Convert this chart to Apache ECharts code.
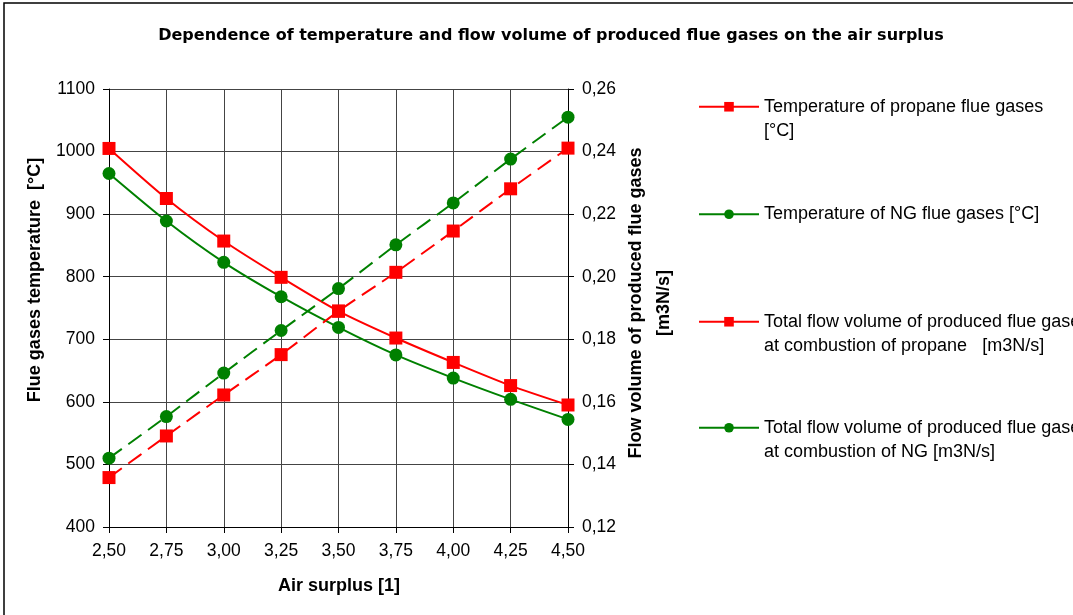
<!DOCTYPE html>
<html>
<head>
<meta charset="utf-8">
<script src="https://cdn.jsdelivr.net/npm/echarts@6/dist/echarts.min.js"></script>
<style>html,body{margin:0;padding:0;background:#fff;}#c{width:1073px;height:615px;}</style>
</head>
<body>
<div id="c"></div>
<script>
var categories = ['2,50','2,75','3,00','3,25','3,50','3,75','4,00','4,25','4,50'];
var tempPropane = [1005, 925, 857, 799, 745, 702, 663, 626, 595];
var tempNG = [965, 889, 823, 768, 719, 675, 638, 604, 572];
var flowPropane = [0.1358, 0.1491, 0.1622, 0.1751, 0.1890, 0.2014, 0.2146, 0.2281, 0.2411];
var flowNG = [0.1420, 0.1553, 0.1692, 0.1828, 0.1962, 0.2102, 0.2236, 0.2376, 0.2510];
var leftTicks = {min: 400, max: 1100, interval: 100};
var rightTicks = {min: 0.12, max: 0.26, interval: 0.02};
var names = [
  'Temperature of propane flue gases\n[°C]',
  'Temperature of NG flue gases [°C]',
  'Total flow volume of produced flue gases\nat combustion of propane   [m3N/s]',
  'Total flow volume of produced flue gases\nat combustion of NG [m3N/s]'
];
var titleText = 'Dependence of temperature and flow volume of produced flue gases on the air surplus';
var xName = 'Air surplus [1]';
var yLeftName = 'Flue gases temperature  [°C]';
var yRightName = 'Flow volume of produced flue gases\n[m3N/s]';

var RED = '#ff0000', GREEN = '#008000';
var FONT = 'Liberation Sans, Arial, sans-serif';
var chart = echarts.init(document.getElementById('c'));
function legendAt(top, i) {
  return {
    left: 698, top: top, orient: 'vertical', padding: 0,
    itemWidth: 60, itemHeight: 12, itemGap: 5,
    data: [{name: names[i], lineStyle: {type: 'solid', width: 2}}],
    formatter: function (n) { return n.indexOf('\n') >= 0 ? '\n' + n : n; },
    textStyle: {fontFamily: FONT, fontSize: 18, color: '#000', lineHeight: 24.5}
  };
}
var axisLine = {show: true, lineStyle: {color: '#000', width: 1}};
var nameStyle = {fontFamily: FONT, fontSize: 18, fontWeight: 'bold', fill: '#000'};
chart.setOption({
  animation: false,
  backgroundColor: '#fff',
  title: {
    text: titleText,
    left: 546, top: 23, textAlign: 'center',
    textStyle: {fontFamily: 'DejaVu Sans', fontSize: 16, fontWeight: 'bold', color: '#000'}
  },
  graphic: [{
    type: 'rect', shape: {x: 4, y: 3, width: 1200, height: 700},
    style: {fill: 'none', stroke: '#000', lineWidth: 1.5}, silent: true
  }, {
    type: 'text', x: 35, y: 280, rotation: Math.PI / 2, silent: true,
    style: Object.assign({text: yLeftName, align: 'center', verticalAlign: 'middle'}, nameStyle)
  }, {
    type: 'text', x: 650, y: 303, rotation: Math.PI / 2, silent: true,
    style: Object.assign({text: yRightName, align: 'center', verticalAlign: 'middle', lineHeight: 28}, nameStyle)
  }, {
    type: 'text', x: 339, y: 586, silent: true,
    style: Object.assign({text: xName, align: 'center', verticalAlign: 'middle'}, nameStyle)
  }],
  legend: [legendAt(70, 0), legendAt(202, 1), legendAt(285, 2), legendAt(391, 3)],
  grid: {left: 109, right: 505, top: 89, bottom: 88},
  xAxis: {
    type: 'category', data: categories, boundaryGap: false,
    axisLine: axisLine,
    axisTick: {show: true, length: 6, lineStyle: {color: '#000'}},
    axisLabel: {fontFamily: FONT, fontSize: 17.5, color: '#000', margin: 15},
    splitLine: {show: true, lineStyle: {color: '#444', width: 1}}
  },
  yAxis: [{
    type: 'value', min: leftTicks.min, max: leftTicks.max, interval: leftTicks.interval,
    axisLine: axisLine,
    axisTick: {show: true, length: 6, lineStyle: {color: '#000'}},
    axisLabel: {fontFamily: FONT, fontSize: 17.5, color: '#000', margin: 14,
      formatter: function (v) { return String(v); }},
    splitLine: {show: true, lineStyle: {color: '#444', width: 1}}
  }, {
    type: 'value', min: rightTicks.min, max: rightTicks.max, interval: rightTicks.interval,
    position: 'right',
    axisLine: axisLine,
    axisTick: {show: true, length: 6, lineStyle: {color: '#000'}},
    axisLabel: {fontFamily: FONT, fontSize: 17.5, color: '#000', margin: 14,
      formatter: function (v) { return v.toFixed(2).replace('.', ','); }},
    splitLine: {show: false}
  }],
  series: [{
    name: names[0], type: 'line', yAxisIndex: 0, data: tempPropane, smooth: 0.25,
    symbol: 'rect', symbolSize: 13, color: RED,
    lineStyle: {color: RED, width: 2}, itemStyle: {color: RED}
  }, {
    name: names[1], type: 'line', yAxisIndex: 0, data: tempNG, smooth: 0.25,
    symbol: 'circle', symbolSize: 13, color: GREEN,
    lineStyle: {color: GREEN, width: 2}, itemStyle: {color: GREEN}
  }, {
    name: names[2], type: 'line', yAxisIndex: 1, data: flowPropane, smooth: 0.25,
    symbol: 'rect', symbolSize: 13, color: RED,
    lineStyle: {color: RED, width: 2, type: [16, 8]}, itemStyle: {color: RED}
  }, {
    name: names[3], type: 'line', yAxisIndex: 1, data: flowNG, smooth: 0.25,
    symbol: 'circle', symbolSize: 13, color: GREEN,
    lineStyle: {color: GREEN, width: 2, type: [16, 8]}, itemStyle: {color: GREEN}
  }]
});
</script>
</body>
</html>
